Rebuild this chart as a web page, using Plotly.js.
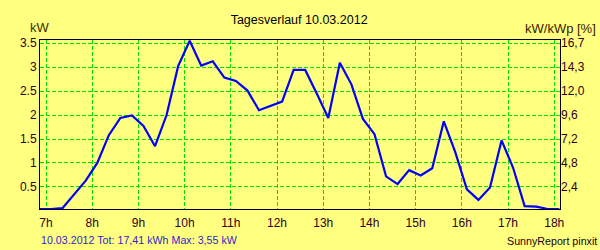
<!DOCTYPE html>
<html>
<head>
<meta charset="utf-8">
<script src="https://cdn.plot.ly/plotly-3.0.1.min.js"></script>
<style>html,body{margin:0;padding:0;background:#FFFF80;}#chart{width:600px;height:250px;}</style>
</head>
<body>
<div id="chart"></div>
<script>
// Data (decimal hours, kW)
const hours = [6.86, 7.11, 7.36, 7.61, 7.86, 8.11, 8.36, 8.61, 8.86, 9.11, 9.36, 9.61, 9.86, 10.11, 10.36, 10.61,
  10.86, 11.11, 11.36, 11.61, 11.86, 12.11, 12.36, 12.61, 12.86, 13.11, 13.36, 13.61, 13.86, 14.11, 14.36, 14.61,
  14.86, 15.11, 15.36, 15.61, 15.86, 16.11, 16.36, 16.61, 16.86, 17.11, 17.36, 17.61, 17.86, 18.11];
const power = [0.04, 0.04, 0.06, 0.35, 0.63, 1.0, 1.58, 1.94, 1.99, 1.77, 1.35, 2.0, 3.02, 3.55, 3.03, 3.12,
  2.78, 2.71, 2.51, 2.10, 2.19, 2.28, 2.94, 2.94, 2.45, 1.94, 3.09, 2.64, 1.92, 1.60, 0.72, 0.56,
  0.85, 0.74, 0.89, 1.87, 1.22, 0.45, 0.23, 0.49, 1.47, 0.90, 0.10, 0.09, 0.04, 0.04];
const xTickVals = [7, 8, 9, 10, 11, 12, 13, 14, 15, 16, 17, 18];
const xTickText = ['7h', '8h', '9h', '10h', '11h', '12h', '13h', '14h', '15h', '16h', '17h', '18h'];
const yTickVals = [0.5, 1, 1.5, 2, 2.5, 3, 3.5];
const yTickText = ['0.5', '1', '1.5', '2', '2.5', '3', '3.5'];
const y2TickText = ['2,4', '4,8', '7,2', '9,6', '12,0', '14,3', '16,7'];
const titleText = 'Tagesverlauf 10.03.2012';
const leftUnit = 'kW';
const rightUnit = 'kW/kWp [%]';
const footerLeft = '10.03.2012 Tot: 17,41 kWh Max: 3,55 kW';
const footerRight = 'SunnyReport pinxit';

const W = 600, H = 250, M = {l: 40, r: 40, t: 40, b: 41};
const PW = W - M.l - M.r, PH = H - M.t - M.b;
const px = x => (x - M.l) / PW;
const py = y => (H - M.b - y) / PH;

const FONT = 'Liberation Sans, Arial, sans-serif';
const BG = '#FFFF80';
const GRID = '#00E000';
const yRange = [0.04, 3.565];

const traces = [
  {x: hours, y: power, type: 'scatter', mode: 'lines', line: {color: '#0000FF', width: 2.2},
   hoverinfo: 'skip', showlegend: false},
  {x: hours, y: power, type: 'scatter', mode: 'lines', yaxis: 'y2', line: {color: 'rgba(0,0,0,0)', width: 0},
   hoverinfo: 'skip', showlegend: false}
];

const layout = {
  width: W, height: H,
  margin: M,
  paper_bgcolor: BG, plot_bgcolor: BG,
  font: {family: FONT, size: 12, color: '#300020'},
  showlegend: false,
  title: {text: titleText, x: 299 / W, xanchor: 'center', xref: 'paper', y: 1 - 20 / H, yanchor: 'middle',
          yref: 'container', font: {family: FONT, size: 12.5, color: '#000000'}},
  xaxis: {range: [6.87, 18.125], tickvals: xTickVals, ticktext: xTickText,
          showgrid: true, gridcolor: GRID, gridwidth: 1, griddash: '4px,2px',
          showline: true, linecolor: '#000000', linewidth: 1, mirror: true, zeroline: false,
          ticks: 'outside', ticklen: 3, tickcolor: 'rgba(0,0,0,0)',
          tickfont: {family: FONT, size: 12, color: '#300020'}},
  yaxis: {range: yRange, tickvals: yTickVals, ticktext: yTickText,
          showgrid: true, gridcolor: GRID, gridwidth: 1, griddash: '4px,2px',
          showline: true, linecolor: '#000000', linewidth: 1, mirror: true, zeroline: false,
          ticks: '', tickfont: {family: FONT, size: 12, color: '#300020'}},
  yaxis2: {range: yRange, overlaying: 'y', side: 'right', tickvals: yTickVals, ticktext: y2TickText,
           showgrid: false, showline: false, zeroline: false, ticks: '',
           tickfont: {family: FONT, size: 12, color: '#300020'}},
  annotations: [
    {text: leftUnit, xref: 'paper', yref: 'paper', x: px(40), y: py(27), xanchor: 'center', yanchor: 'middle',
     showarrow: false, font: {family: FONT, size: 13, color: '#3a3000'}},
    {text: rightUnit, xref: 'paper', yref: 'paper', x: px(598), y: py(28), xanchor: 'right', yanchor: 'middle',
     showarrow: false, font: {family: FONT, size: 13, color: '#3a2000'}},
    {text: footerLeft, xref: 'paper', yref: 'paper', x: px(39), y: py(240), xanchor: 'left', yanchor: 'middle',
     showarrow: false, font: {family: FONT, size: 10.7, color: '#3322CC'}},
    {text: footerRight, xref: 'paper', yref: 'paper', x: px(599), y: py(241), xanchor: 'right', yanchor: 'middle',
     showarrow: false, font: {family: FONT, size: 10.7, color: '#200010'}}
  ]
};

Plotly.newPlot('chart', traces, layout, {staticPlot: true, displayModeBar: false});
</script>
</body>
</html>
